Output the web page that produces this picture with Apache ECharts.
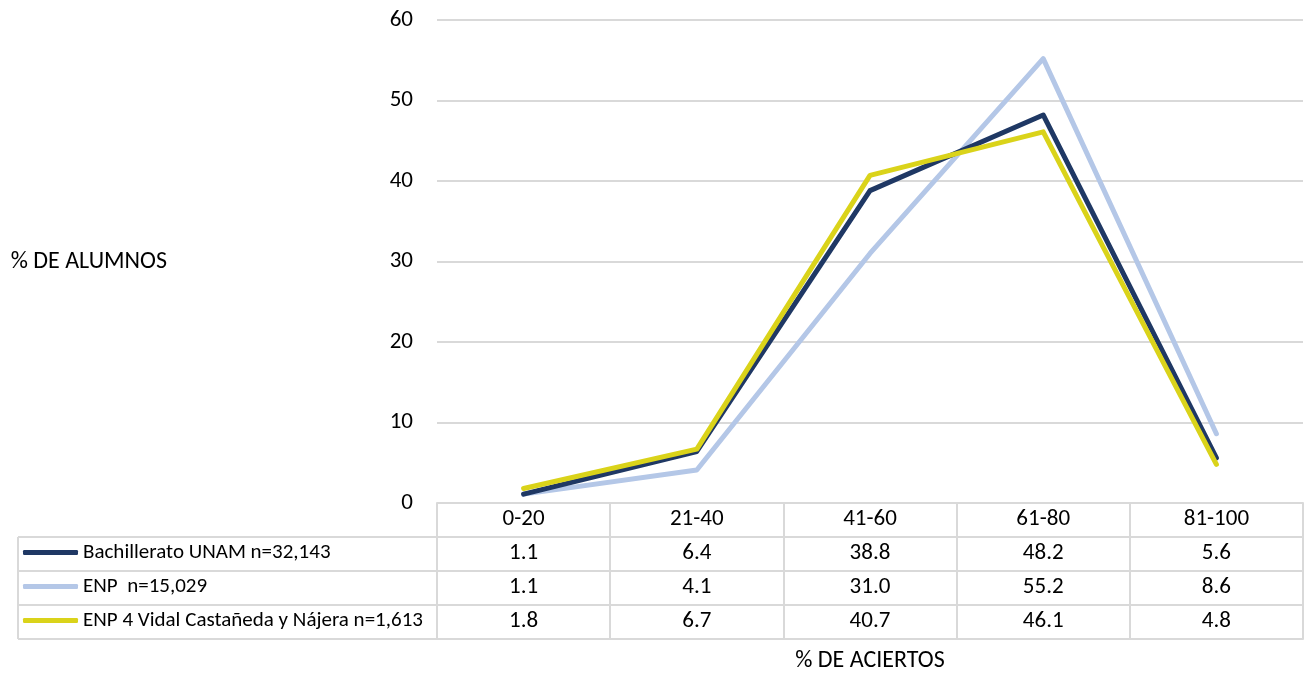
<!DOCTYPE html>
<html>
<head>
<meta charset="utf-8">
<script src="https://cdn.jsdelivr.net/npm/echarts@6/dist/echarts.min.js"></script>
<style>html,body{margin:0;padding:0;background:#fff}#c{width:1307px;height:675px}</style>
</head>
<body>
<div id="c"></div>
<script>
const categories = ['0-20', '21-40', '41-60', '61-80', '81-100'];
const bachillerato = [1.1, 6.4, 38.8, 48.2, 5.6];
const enp = [1.1, 4.1, 31.0, 55.2, 8.6];
const enp4 = [1.8, 6.7, 40.7, 46.1, 4.8];
const seriesNames = ['Bachillerato UNAM n=32,143', 'ENP  n=15,029', 'ENP 4 Vidal Castañeda y Nájera n=1,613'];
const yTicks = [0, 10, 20, 30, 40, 50, 60];

const FONT = 'Carlito, Calibri, "Liberation Sans", sans-serif';
const colors = ['#1F3864', '#B4C7E7', '#DAD31A'];
const gridColor = '#D9D9D9';
const ROW = 34;
const FS = 23;

function tableAxis(data, offset, showLabel) {
  return {
    type: 'category', gridIndex: 0, position: 'bottom', offset: offset,
    data: data, boundaryGap: true,
    axisLine: { show: true, lineStyle: { color: gridColor, width: 2 } },
    axisTick: { show: showLabel, interval: 0, length: ROW, lineStyle: { color: gridColor, width: 2 } },
    axisLabel: { show: showLabel, interval: 0, margin: 5, fontSize: FS, color: '#000', fontFamily: FONT },
    splitLine: { show: false }
  };
}
const fmt = a => a.map(v => v.toFixed(1));

const xAxes = [
  tableAxis(categories, 0, true),
  tableAxis(fmt(bachillerato), ROW, true),
  tableAxis(fmt(enp), ROW * 2, true),
  tableAxis(fmt(enp4), ROW * 3, true),
  Object.assign(tableAxis(categories, ROW * 4, false), {
    name: '% DE ACIERTOS', nameLocation: 'middle', nameGap: 10,
    nameTextStyle: { fontSize: 24, color: '#000', fontFamily: FONT, verticalAlign: 'top' }
  })
];

const allData = [bachillerato, enp, enp4];
const series = allData.map((d, i) => ({
  name: seriesNames[i], type: 'line', data: d, xAxisIndex: 0, yAxisIndex: 0,
  symbol: 'none', z: 10 + (i === 1 ? 0 : i === 0 ? 1 : 2),
  lineStyle: { color: colors[i], width: 5, cap: 'round', join: 'round' },
  itemStyle: { color: colors[i] }
}));

const legends = seriesNames.map((n, i) => ({
  data: [n], left: 23, top: 537 + ROW * i + 5, orient: 'horizontal',
  icon: 'roundRect', itemWidth: 55, itemHeight: 5, itemGap: 6, padding: 0,
  selectedMode: false,
  textStyle: { fontSize: 21, color: '#000', fontFamily: FONT, padding: [0, 0, 0, 0] }
}));

const gl = { stroke: gridColor, lineWidth: 2 };
const graphics = [];
[537, 571, 605, 639].forEach(y => graphics.push({ type: 'line', shape: { x1: 18, y1: y, x2: 437, y2: y }, style: gl, silent: true }));
graphics.push({ type: 'line', shape: { x1: 18, y1: 537, x2: 18, y2: 639 }, style: gl, silent: true });

const chart = echarts.init(document.getElementById('c'));
chart.setOption({
  animation: false,
  backgroundColor: '#fff',
  textStyle: { fontFamily: FONT },
  grid: { left: 437, right: 4, top: 20, bottom: 172, containLabel: false, outerBoundsMode: 'none' },
  legend: legends,
  xAxis: xAxes,
  yAxis: {
    type: 'value', min: yTicks[0], max: yTicks[yTicks.length - 1], interval: 10,
    axisLine: { show: false }, axisTick: { show: false },
    axisLabel: { margin: 24, fontSize: FS, color: '#000', fontFamily: FONT },
    splitLine: { lineStyle: { color: gridColor, width: 2 } },
    name: '% DE ALUMNOS', nameLocation: 'middle', nameRotate: 0, nameGap: 270,
    nameTextStyle: { fontSize: 24, color: '#000', fontFamily: FONT, align: 'right', padding: [8, 0, 0, 0] }
  },
  series: series,
  graphic: graphics
});
</script>
</body>
</html>
